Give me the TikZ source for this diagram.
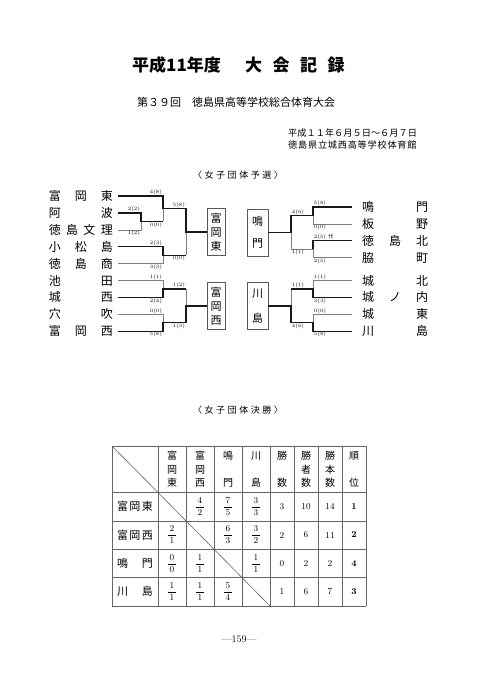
\documentclass[tikz,border=0pt]{standalone}
\usepackage{amsmath}
\usepackage{fontspec}
\newfontfamily\jp{Noto Sans CJK JP}
\usetikzlibrary{positioning,calc}
\newcommand{\jpfs}[1]{\jp\fontsize{#1}{#1}\selectfont}
\newcommand{\sprd}[2]{\makebox[#1][s]{#2}}
\newcommand{\fr}[2]{$\dfrac{\,#1\,}{\,#2\,}$}
\tikzset{
  headtext/.style={inner sep=0pt,anchor=west},
  secttext/.style={inner sep=0pt,font=\jpfs{9}\addfontfeatures{LetterSpace=28}},
  team/.style={inner sep=0pt,font=\jpfs{12}},
  score/.style={inner sep=0.7pt,font=\fontsize{5}{5}\selectfont},
  winbox/.style={rectangle,draw=black!65,line width=0.5pt,inner sep=0pt,minimum width=18pt,minimum height=47pt,align=center,font=\jp\fontsize{11}{14}\selectfont},
  winline/.style={line width=1.3pt,color=black!90},
  lossline/.style={line width=0.45pt,color=black!50},
  tabline/.style={line width=0.6pt,color=black!60},
  headcell/.style={inner sep=0pt,align=center,font=\jp\fontsize{10}{13.5}\selectfont},
  rowcell/.style={inner sep=0pt,font=\jpfs{11}},
  numcell/.style={inner sep=0pt,font=\fontsize{9}{11}\selectfont}
}

\begin{document}
\begin{tikzpicture}[x=1pt,y=-1pt]
  \path[fill=white] (0,0) rectangle (480,679);

  % title block
  \node[headtext,font=\jpfs{17}\bfseries] (title) at (132,65) {平成11年度};
  \node[headtext,font=\jpfs{17}\bfseries] (titleb) at (245,65) {大\hspace{10.5pt}会\hspace{10.5pt}記\hspace{10.5pt}録};
  \node[headtext,font=\jpfs{11}] (subtitle) at (137,102) {第３９回　徳島県高等学校総合体育大会};
  \node[headtext,font=\jpfs{9.2}] (date) at (288,133) {平成１１年６月５日～６月７日};
  \node[headtext,font=\jpfs{9.2}\addfontfeatures{LetterSpace=8}] (venue) at (288,145) {徳島県立城西高等学校体育館};

  % preliminary bracket
  \node[secttext] (prelim) at (238,175) {〈女子団体予選〉};

  \node[team,anchor=east] (lt1) at (113,196) {\sprd{64pt}{富\hfill 岡\hfill 東}};
  \node[team,anchor=east] (lt2) at (113,212.9) {\sprd{64pt}{阿\hfill 波}};
  \node[team,anchor=east] (lt3) at (113,229.8) {\sprd{64pt}{徳\hfill 島\hfill 文\hfill 理}};
  \node[team,anchor=east] (lt4) at (113,246.7) {\sprd{64pt}{小\hfill 松\hfill 島}};
  \node[team,anchor=east] (lt5) at (113,263.6) {\sprd{64pt}{徳\hfill 島\hfill 商}};
  \node[team,anchor=east] (lt6) at (113,280.5) {\sprd{64pt}{池\hfill 田}};
  \node[team,anchor=east] (lt7) at (113,297.4) {\sprd{64pt}{城\hfill 西}};
  \node[team,anchor=east] (lt8) at (113,314.3) {\sprd{64pt}{穴\hfill 吹}};
  \node[team,anchor=east] (lt9) at (113,331.2) {\sprd{64pt}{富\hfill 岡\hfill 西}};

  \node[team,anchor=west] (rt1) at (362,207) {\sprd{66pt}{鳴\hfill 門}};
  \node[team,anchor=west] (rt2) at (362,223.9) {\sprd{66pt}{板\hfill 野}};
  \node[team,anchor=west] (rt3) at (362,240.8) {\sprd{66pt}{徳\hfill 島\hfill 北}};
  \node[team,anchor=west] (rt4) at (362,257.7) {\sprd{66pt}{脇\hfill 町}};
  \node[team,anchor=west] (rt5) at (362,280.5) {\sprd{66pt}{城\hfill 北}};
  \node[team,anchor=west] (rt6) at (362,297.4) {\sprd{66pt}{城\hfill ノ\hfill 内}};
  \node[team,anchor=west] (rt7) at (362,314.3) {\sprd{66pt}{城\hfill 東}};
  \node[team,anchor=west] (rt8) at (362,331.2) {\sprd{66pt}{川\hfill 島}};

  \node[winbox] (boxE) at (216,231.9) {富\\岡\\東};
  \node[winbox] (boxW) at (216,305.85) {富\\岡\\西};
  \node[winbox,minimum width=21pt] (boxN) at (257.5,232.35) {鳴\\[8pt]門};
  \node[winbox,minimum width=21pt] (boxK) at (257.5,305.85) {川\\[11pt]島};

  \coordinate (m1) at (141,221.35);
  \coordinate (m2) at (163,208.7);
  \coordinate (m3) at (163,255.15);
  \coordinate (m4) at (186,231.9);
  \coordinate (m5) at (163,288.95);
  \coordinate (m6) at (163,322.75);
  \coordinate (m7) at (186,305.85);
  \coordinate (n1) at (313,215.45);
  \coordinate (n2) at (313,249.25);
  \coordinate (n3) at (291,232.35);
  \coordinate (n4) at (313,288.95);
  \coordinate (n5) at (313,322.75);
  \coordinate (n6) at (291,305.85);

  % losing lines
  \draw[lossline] ([xshift=5pt]lt3.east) -- (lt3.east -| m1) -- (m1);
  \draw[lossline] (m2 |- m1) -- (m2);
  \draw[lossline] ([xshift=5pt]lt5.east) -- (lt5.east -| m3) -- (m3);
  \draw[lossline] (m4 |- m3) -- (m4);
  \draw[lossline] ([xshift=5pt]lt6.east) -- (lt6.east -| m5) -- (m5);
  \draw[lossline] (m7 |- m5) -- (m7);
  \draw[lossline] ([xshift=5pt]lt8.east) -- (lt8.east -| m6) -- (m6);
  \draw[lossline] ([xshift=-10pt]rt2.west) -- (rt2.west -| n1) -- (n1);
  \draw[lossline] ([xshift=-10pt]rt4.west) -- (rt4.west -| n2) -- (n2);
  \draw[lossline] (n2) -- (n3 |- n2) -- (n3);
  \draw[lossline] ([xshift=-10pt]rt5.west) -- (rt5.west -| n4) -- (n4);
  \draw[lossline] (n6 |- n4) -- (n6);
  \draw[lossline] ([xshift=-10pt]rt7.west) -- (rt7.west -| n5) -- (n5);

  % winning lines
  \draw[winline] ([xshift=5pt]lt1.east) -- (lt1.east -| m2) -- (m2) -- (m4 |- m2) -- (m4) -- (boxE);
  \draw[winline] ([xshift=5pt]lt2.east) -- (lt2.east -| m1) -- (m1) -- (m2 |- m1);
  \draw[winline] ([xshift=5pt]lt4.east) -- (lt4.east -| m3) -- (m3) -- (m4 |- m3);
  \draw[winline] ([xshift=5pt]lt7.east) -- (lt7.east -| m5) -- (m5) -- (m7 |- m5);
  \draw[winline] ([xshift=5pt]lt9.east) -- (lt9.east -| m6) -- (m6) -- (m7 |- m6) -- (m7) -- (boxW);
  \draw[winline] ([xshift=-10pt]rt1.west) -- (rt1.west -| n1) -- (n1) -- (n3 |- n1) -- (n3) -- (boxN);
  \draw[winline] ([xshift=-10pt]rt3.west) -- (rt3.west -| n2) -- (n2);
  \draw[winline] ([xshift=-10pt]rt6.west) -- (rt6.west -| n4) -- (n4) -- (n6 |- n4);
  \draw[winline] ([xshift=-10pt]rt8.west) -- (rt8.west -| n5) -- (n5) -- (n6 |- n5) -- (n6) -- (boxK);

  % scores
  \node[score,anchor=south east] (sl1) at (lt1.east -| m2) {4(8)};
  \node[score,anchor=south east] (sl2) at (lt2.east -| m1) {2(2)};
  \node[score,anchor=north east] (sl3) at (lt3.east -| m1) {1(2)};
  \node[score,anchor=north east] (sl4) at (m2 |- m1) {0(0)};
  \node[score,anchor=south east] (sl5) at (m4 |- m2) {5(8)};
  \node[score,anchor=south east] (sl6) at (lt4.east -| m3) {2(3)};
  \node[score,anchor=north east] (sl7) at (lt5.east -| m3) {3(3)};
  \node[score,anchor=north east] (sl8) at (m4 |- m3) {0(0)};
  \node[score,anchor=south east] (sl9) at (lt6.east -| m5) {1(1)};
  \node[score,anchor=north east] (sl10) at (lt7.east -| m5) {2(4)};
  \node[score,anchor=south east] (sl11) at (m7 |- m5) {1(2)};
  \node[score,anchor=south east] (sl12) at (lt8.east -| m6) {0(0)};
  \node[score,anchor=north east] (sl13) at (lt9.east -| m6) {5(8)};
  \node[score,anchor=north east] (sl14) at (m7 |- m6) {1(3)};
  \node[score,anchor=south west] (sr1) at (rt1.west -| n1) {5(8)};
  \node[score,anchor=north west] (sr2) at (rt2.west -| n1) {0(0)};
  \node[score,anchor=south west] (sr3) at (rt3.west -| n2) {2(5)\ {\jpfs{5}代}};
  \node[score,anchor=north west] (sr4) at (rt4.west -| n2) {2(5)};
  \node[score,anchor=south west] (sr5) at (n3 |- n1) {4(6)};
  \node[score,anchor=north west] (sr6) at (n3 |- n2) {1(1)};
  \node[score,anchor=south west] (sr7) at (rt5.west -| n4) {1(1)};
  \node[score,anchor=north west] (sr8) at (rt6.west -| n4) {3(3)};
  \node[score,anchor=south west] (sr9) at (rt7.west -| n5) {0(0)};
  \node[score,anchor=north west] (sr10) at (rt8.west -| n5) {5(8)};
  \node[score,anchor=south west] (sr11) at (n6 |- n4) {1(1)};
  \node[score,anchor=north west] (sr12) at (n6 |- n5) {4(6)};

  % final league table
  \node[secttext] (final) at (238,410) {〈女子団体決勝〉};

  \foreach \y in {446,492.5,521,549,577.5,606}
    \draw[tabline] (112,\y) -- (366,\y);
  \foreach \x in {112,158,186,214,242,270,294,318,342,366}
    \draw[tabline] (\x,446) -- (\x,606);
  \draw[tabline] (112,446) -- (158,492.5);
  \draw[tabline] (158,492.5) -- (270,606);

  \node[headcell] (hTE) at (172,469.25) {富\\岡\\東};
  \node[headcell] (hTW) at (200,469.25) {富\\岡\\西};
  \node[headcell] (hN) at (228,469.25) {鳴\\[13.5pt]門};
  \node[headcell] (hK) at (256,469.25) {川\\[13.5pt]島};
  \node[headcell] (hWin) at (282,469.25) {勝\\[13.5pt]数};
  \node[headcell] (hPl) at (306,469.25) {勝\\者\\数};
  \node[headcell] (hBo) at (330,469.25) {勝\\本\\数};
  \node[headcell] (hRk) at (354,469.25) {順\\[13.5pt]位};

  \node[rowcell] (rTE) at (135,506.75) {\sprd{36pt}{富\hfill 岡\hfill 東}};
  \node[rowcell] (rTW) at (135,535) {\sprd{36pt}{富\hfill 岡\hfill 西}};
  \node[rowcell] (rN) at (135,563.25) {\sprd{36pt}{鳴\hfill 門}};
  \node[rowcell] (rK) at (135,591.75) {\sprd{36pt}{川\hfill 島}};

  \node[numcell] (c12) at (200,506.75) {\fr{4}{2}};
  \node[numcell] (c13) at (228,506.75) {\fr{7}{5}};
  \node[numcell] (c14) at (256,506.75) {\fr{3}{3}};
  \node[numcell] (c15) at (282,506.75) {3};
  \node[numcell] (c16) at (306,506.75) {10};
  \node[numcell] (c17) at (330,506.75) {14};
  \node[numcell] (c18) at (354,506.75) {\textbf{1}};

  \node[numcell] (c21) at (172,535) {\fr{2}{1}};
  \node[numcell] (c23) at (228,535) {\fr{6}{3}};
  \node[numcell] (c24) at (256,535) {\fr{3}{2}};
  \node[numcell] (c25) at (282,535) {2};
  \node[numcell] (c26) at (306,535) {6};
  \node[numcell] (c27) at (330,535) {11};
  \node[numcell] (c28) at (354,535) {\textbf{2}};

  \node[numcell] (c31) at (172,563.25) {\fr{0}{0}};
  \node[numcell] (c32) at (200,563.25) {\fr{1}{1}};
  \node[numcell] (c34) at (256,563.25) {\fr{1}{1}};
  \node[numcell] (c35) at (282,563.25) {0};
  \node[numcell] (c36) at (306,563.25) {2};
  \node[numcell] (c37) at (330,563.25) {2};
  \node[numcell] (c38) at (354,563.25) {\textbf{4}};

  \node[numcell] (c41) at (172,591.75) {\fr{1}{1}};
  \node[numcell] (c42) at (200,591.75) {\fr{1}{1}};
  \node[numcell] (c43) at (228,591.75) {\fr{5}{4}};
  \node[numcell] (c45) at (282,591.75) {1};
  \node[numcell] (c46) at (306,591.75) {6};
  \node[numcell] (c47) at (330,591.75) {7};
  \node[numcell] (c48) at (354,591.75) {\textbf{3}};

  \node[inner sep=0pt,font=\fontsize{10}{10}\selectfont] (pageno) at (239,639) {---159---};
\end{tikzpicture}
\end{document}
